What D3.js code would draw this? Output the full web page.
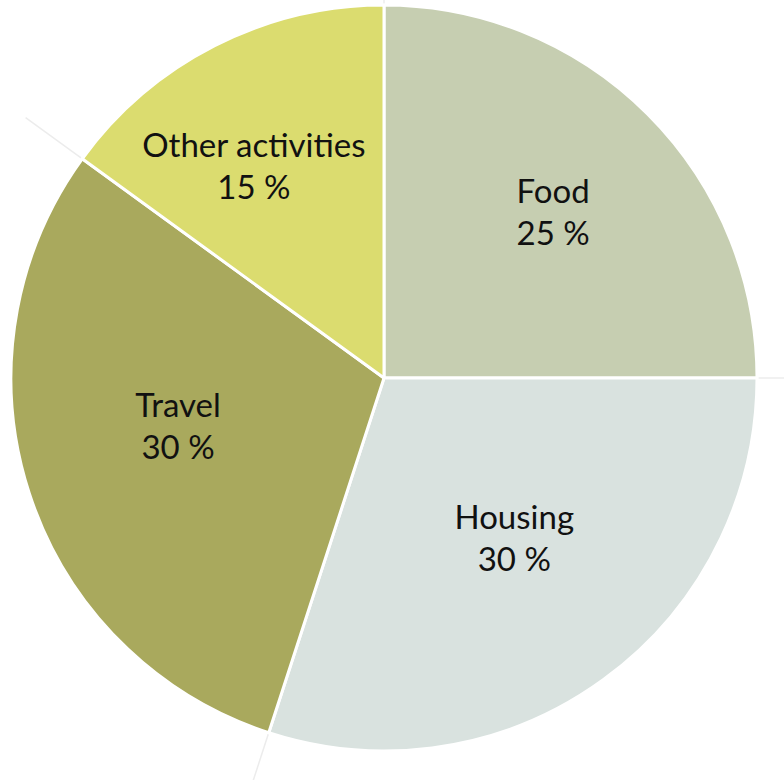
<!DOCTYPE html>
<html>
<head>
<meta charset="utf-8">
<script src="https://cdn.jsdelivr.net/npm/d3@7/dist/d3.min.js"></script>
<style>
  html, body { margin: 0; padding: 0; background: #ffffff; }
  svg { display: block; }
  .label { font-family: Lato, "Open Sans", sans-serif; fill: #111; }
</style>
</head>
<body>
<svg id="chart" width="784" height="780"></svg>
<script>
// Spending breakdown (share of total, %)
const categories = ["Food", "Housing", "Travel", "Other activities"];
const shares = [25, 30, 30, 15];
const colors = ["#c6ceb1", "#d9e2df", "#a9a95d", "#dbdc6f"];

// Label placement tweaks (pixels, relative to the slice centroid)
const labelNudge = [[10, -16], [-2, -31], [8, -31], [-28, -21]];

const width = 784, height = 780;
const cx = 384, cy = 378, radius = 373;
const labelRadius = 225;

const svg = d3.select("#chart");
const g = svg.append("g").attr("transform", `translate(${cx},${cy})`);

const pie = d3.pie().sort(null).value(d => d.value);
const arcs = pie(categories.map((c, i) => ({ name: c, value: shares[i], color: colors[i] })));

const arc = d3.arc().innerRadius(0).outerRadius(radius);
const labelArc = d3.arc().innerRadius(labelRadius).outerRadius(labelRadius);

// faint guide lines running past the rim along each slice boundary
g.selectAll("line.guide")
  .data(arcs)
  .join("line")
  .attr("class", "guide")
  .attr("x1", 0).attr("y1", 0)
  .attr("x2", d => Math.sin(d.startAngle) * (radius + 70))
  .attr("y2", d => -Math.cos(d.startAngle) * (radius + 70))
  .attr("stroke", "#ececec")
  .attr("stroke-width", 1.5);

g.selectAll("path.slice")
  .data(arcs)
  .join("path")
  .attr("class", "slice")
  .attr("d", arc)
  .attr("fill", d => d.data.color)
  .attr("stroke", "#ffffff")
  .attr("stroke-width", 3)
  .attr("stroke-linejoin", "round");

const labels = g.selectAll("text.label")
  .data(arcs)
  .join("text")
  .attr("class", "label")
  .attr("text-anchor", "middle")
  .attr("font-size", 33)
  .attr("transform", (d, i) => {
    const [x, y] = labelArc.centroid(d);
    return `translate(${x + labelNudge[i][0]},${y + labelNudge[i][1]})`;
  });

labels.append("tspan")
  .attr("x", 0)
  .attr("y", 0)
  .text(d => d.data.name);

labels.append("tspan")
  .attr("x", 0)
  .attr("y", 42)
  .text(d => `${d.data.value} %`);
</script>
</body>
</html>
